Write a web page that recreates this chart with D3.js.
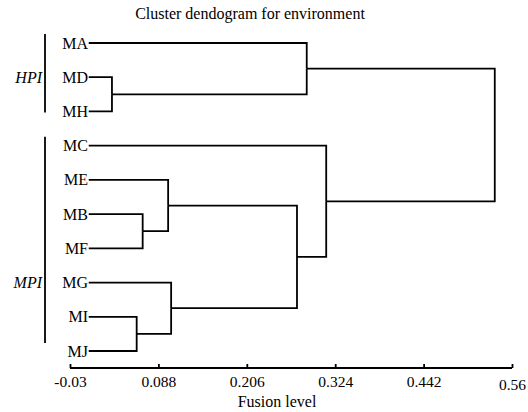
<!DOCTYPE html>
<html><head><meta charset="utf-8">
<script src="https://cdn.jsdelivr.net/npm/d3@7"></script>
<style>body{margin:0;background:#fff}svg{display:block}text{font-family:"Liberation Serif","DejaVu Serif",serif;fill:#000}</style>
</head><body><svg id="c" width="528" height="412"></svg>
<script>
const leaves = ["MA","MD","MH","MC","ME","MB","MF","MG","MI","MJ"];
const leafLevel = -0.005;
const mergeId    = ["c1","c2","c3","c4","c5","c6","c7","c8","c9"];
const mergeLeft  = ["MD","MB","MI","ME","MG","c4","MA","MC","c7"];
const mergeRight = ["MH","MF","MJ","c2","c3","c5","c1","c6","c8"];
const mergeLevel = [0.026,0.067,0.059,0.101,0.105,0.273,0.286,0.312,0.537];
const ticks = [-0.03,0.088,0.206,0.324,0.442,0.56];
const groups = ["HPI","MPI"];
const groupFirst = ["MA","MC"];
const groupLast = ["MH","MJ"];

const svg = d3.select("#c");
const x = d3.scaleLinear().domain([-0.03,0.56]).range([70,512]);
const y = d3.scalePoint().domain(leaves).range([43,351]);

const nodes = {};
leaves.forEach(n => nodes[n] = {name:n, level:leafLevel, y:y(n)});
mergeId.forEach((id,i) => {
  const a = nodes[mergeLeft[i]], b = nodes[mergeRight[i]];
  nodes[id] = {name:id, level:mergeLevel[i], y:(a.y+b.y)/2, children:[a,b]};
});
const root = nodes["c9"];

const g = svg.append("g").attr("fill","none").attr("stroke","#000").attr("stroke-width",1.8);
function draw(n){
  if(!n.children) return;
  const xp = x(n.level);
  n.children.forEach(c=>{
    g.append("path").attr("d",`M${x(c.level)},${c.y}H${xp}V${n.y}`);
    draw(c);
  });
}
draw(root);

// leaf labels
svg.append("g").selectAll("text").data(leaves).join("text")
  .attr("x",88).attr("y",d=>y(d)+5.5).attr("text-anchor","end")
  .attr("font-size",16).text(d=>d);

// group brackets
groups.forEach((gname,i)=>{
  const y0 = y(groupFirst[i])-9, y1 = y(groupLast[i])+ (i==0?1:-8);
  svg.append("line").attr("x1",45).attr("x2",45).attr("y1",y0).attr("y2",y1)
    .attr("stroke","#000").attr("stroke-width",1.8);
});
svg.append("text").attr("x",42).attr("y",y("MD")+5.5).attr("text-anchor","end")
  .attr("font-size",16).attr("font-style","italic").text("HPI");
svg.append("text").attr("x",42).attr("y",y("MG")+5.5).attr("text-anchor","end")
  .attr("font-size",16).attr("font-style","italic").text("MPI");

// axis
const ax = svg.append("g").attr("transform","translate(0,368)")
  .call(d3.axisBottom(x).tickValues(ticks).tickSize(-4).tickPadding(8).tickFormat(d=>String(d)));
ax.select(".domain").attr("stroke","#000").attr("stroke-width",1.8).attr("d","M70,0H512");
ax.selectAll(".tick line").attr("stroke","#000").attr("stroke-width",1.8);
ax.selectAll(".tick text").attr("font-size",15.5).attr("font-family","Liberation Serif, serif").attr("fill","#000");
ax.selectAll(".tick text").filter(d=>d===0.56).attr("y",11);

svg.append("text").attr("x",250).attr("y",19).attr("text-anchor","middle").attr("font-size",16)
  .text("Cluster dendogram for environment");
svg.append("text").attr("x",277).attr("y",407).attr("text-anchor","middle").attr("font-size",16)
  .text("Fusion level");
</script></body></html>
